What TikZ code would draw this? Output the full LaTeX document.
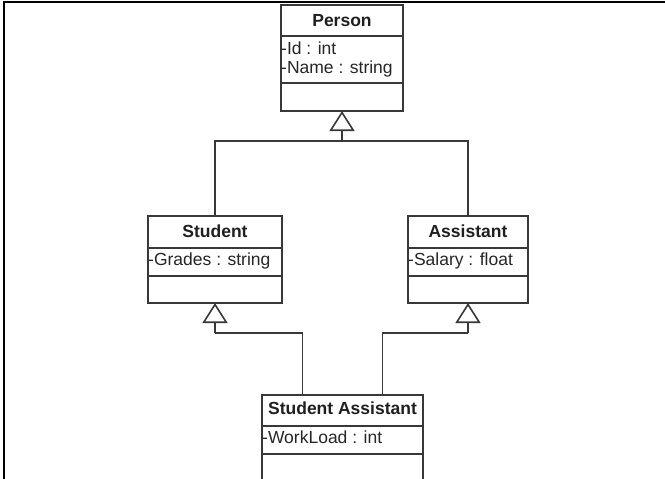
\documentclass[tikz,border=0pt]{standalone}
\usepackage{fontspec}
\setmainfont{Liberation Sans}
\usetikzlibrary{arrows.meta}

\begin{document}
\begin{tikzpicture}[x=1pt,y=-1pt,
  ink/.style={draw=black!78, line width=1.6pt},
  classbox/.style={ink, rectangle, inner sep=0pt, outer sep=0pt, fill=white, anchor=north west},
  divider/.style={ink},
  title/.style={inner sep=0pt, anchor=base, font=\fontsize{17.5}{20}\selectfont\bfseries, text=black!88},
  attr/.style={inner sep=0pt, anchor=base west, font=\fontsize{17.5}{20}\selectfont, text=black!85},
  link/.style={ink},
  inherit/.style={ink, -{Triangle[open, length=20pt, width=25pt, fill=white]}},
]
\useasboundingbox (0,0) rectangle (665,479);
\clip (0,0) rectangle (665,479);

% frame along the top and left edges
\draw[line width=2.6pt, black] (665,2) -- (4,2) -- (4,479);

% class Person
\node[classbox, minimum width=122pt, minimum height=106pt] (person) at (281,5) {};
\draw[divider] ([yshift=-31pt]person.north west) -- ([yshift=-31pt]person.north east);
\draw[divider] ([yshift=-78pt]person.north west) -- ([yshift=-78pt]person.north east);
\node[title] (personT) at (342,27) {Person};
\node[attr] (personA1) at (281,54) {-Id : int};
\node[attr] (personA2) at (281,74) {-Name : string};

% class Student
\node[classbox, minimum width=134pt, minimum height=87pt] (student) at (148,216) {};
\draw[divider] ([yshift=-32pt]student.north west) -- ([yshift=-32pt]student.north east);
\draw[divider] ([yshift=-60pt]student.north west) -- ([yshift=-60pt]student.north east);
\node[title] (studentT) at (215,237) {Student};
\node[attr] (studentA1) at (148,265) {-Grades : string};

% class Assistant
\node[classbox, minimum width=120pt, minimum height=87pt] (assistant) at (408,216) {};
\draw[divider] ([yshift=-32pt]assistant.north west) -- ([yshift=-32pt]assistant.north east);
\draw[divider] ([yshift=-60pt]assistant.north west) -- ([yshift=-60pt]assistant.north east);
\node[title] (assistantT) at (468,237) {Assistant};
\node[attr] (assistantA1) at (408,265) {-Salary : float};

% class Student Assistant
\node[classbox, minimum width=161pt, minimum height=100pt] (sa) at (262,395) {};
\draw[divider] ([yshift=-31pt]sa.north west) -- ([yshift=-31pt]sa.north east);
\draw[divider] ([yshift=-59pt]sa.north west) -- ([yshift=-59pt]sa.north east);
\node[title] (saT) at (342.5,414) {Student Assistant};
\node[attr] (saA1) at (262,443) {-WorkLoad : int};

% generalisation: Student and Assistant -> Person
\coordinate (pj) at (person.south |- 0,141);
\draw[link] (student.north) |- (pj) -| (assistant.north);
\draw[inherit] (pj) -- (person.south);

% generalisation: Student Assistant -> Student and Assistant
\coordinate (saL) at ([xshift=-40pt]sa.north);
\coordinate (saR) at ([xshift=40pt]sa.north);
\coordinate (sj) at (student.south |- 0,333);
\coordinate (aj) at (assistant.south |- 0,333);
\draw[link] (saL) |- (sj);
\draw[inherit] (sj) -- (student.south);
\draw[link] (saR) |- (aj);
\draw[inherit] (aj) -- (assistant.south);
\end{tikzpicture}
\end{document}
